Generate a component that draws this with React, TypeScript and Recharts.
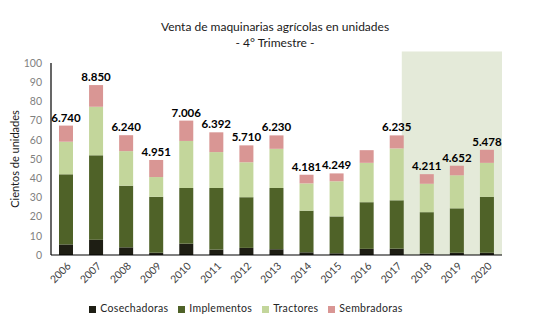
import React from 'react';
import { BarChart, Bar, XAxis, YAxis, Legend, LabelList, ReferenceArea } from 'recharts';

const years = ['2006', '2007', '2008', '2009', '2010', '2011', '2012', '2013', '2014', '2015', '2016', '2017', '2018', '2019', '2020'];
const cosechadoras = [5.5, 8.0, 4.0, 1.2, 5.9, 2.8, 3.7, 3.0, 1.4, 0.9, 3.2, 3.3, 0.8, 1.2, 1.2];
const implementos = [36.5, 43.9, 32.1, 29.1, 29.0, 32.1, 26.4, 31.9, 21.7, 19.2, 24.3, 25.2, 21.5, 23.1, 29.1];
const tractores = [17.0, 25.3, 18.0, 10.3, 24.5, 18.7, 18.2, 20.4, 14.2, 18.3, 20.5, 27.0, 14.8, 17.2, 17.7];
const sembradoras = [8.4, 11.3, 8.3, 8.9, 10.6, 10.3, 8.8, 7.0, 4.5, 4.1, 6.6, 6.8, 5.0, 5.0, 6.8];
const totalLabels = ['6.740', '8.850', '6.240', '4.951', '7.006', '6.392', '5.710', '6.230', '4.181', '4.249', '', '6.235', '4.211', '4.652', '5.478'];
const yTicks = [0, 10, 20, 30, 40, 50, 60, 70, 80, 90, 100];
const seriesOrder = ['Cosechadoras', 'Implementos', 'Tractores', 'Sembradoras'];

// highlighted period
const shadeFrom = '2018';
const shadeTo = '2020';
const shadeTop = 106;

const data = years.map((year, i) => ({
  year,
  Cosechadoras: cosechadoras[i],
  Implementos: implementos[i],
  Tractores: tractores[i],
  Sembradoras: sembradoras[i],
  label: totalLabels[i],
}));

const FONT = 'Lato, "Open Sans", sans-serif';

const XTick = (props: any) => {
  const { x, y, payload } = props;
  const tx = x + 3;
  const ty = y + 1;
  return (
    <text
      x={tx}
      y={ty}
      dy="0.35em"
      textAnchor="end"
      transform={`rotate(-45 ${tx} ${ty})`}
      fontSize={10.5}
      fontFamily={FONT}
      fill="#404040"
    >
      {payload.value}
    </text>
  );
};

// shaded panel starts a little before the first highlighted category band
const ShadeShape = (props: any) => {
  const { x, y, width, height } = props;
  const band = width / 3;
  const ext = band / 3;
  return <rect x={x - ext} y={y} width={width + ext} height={height} fill="#e4ead9" stroke="none" />;
};

export default function App() {
  return (
    <div style={{ position: 'absolute', left: 0, top: 0, width: 536, height: 324, background: '#fff', fontFamily: FONT }}>
      <div style={{ position: 'absolute', left: 0, top: 19, width: 550, textAlign: 'center', fontSize: 12, color: '#1a1a1a', lineHeight: '16px' }}>
        Venta de maquinarias agrícolas en unidades
        <br />- 4° Trimestre -
      </div>
      <BarChart
        width={536}
        height={324}
        data={data}
        margin={{ top: 63, right: 34, left: 0, bottom: 10 }}
        barSize={14}
      >
        <ReferenceArea
          x1={shadeFrom}
          x2={shadeTo}
          y1={0}
          y2={shadeTop}
          ifOverflow="visible"
          shape={<ShadeShape />}
        />
        <XAxis
          dataKey="year"
          interval={0}
          tickLine={false}
          axisLine={{ stroke: '#000', strokeWidth: 1.2 }}
          height={47}
          tick={<XTick />}
        />
        <YAxis
          width={51}
          domain={[0, 100]}
          ticks={yTicks}
          interval={0}
          tickLine={false}
          tickMargin={3}
          axisLine={{ stroke: '#000', strokeWidth: 1.2 }}
          tick={{ fontSize: 10.5, fill: '#7f7f7f', fontFamily: FONT }}
          label={{
            value: 'Cientos de unidades',
            angle: -90,
            position: 'insideLeft',
            offset: 15,
            style: { textAnchor: 'middle', fontSize: 11, fill: '#1a1a1a', fontFamily: FONT },
          }}
        />
        <Legend
          iconType="square"
          iconSize={7}
          itemSorter={(item: any) => seriesOrder.indexOf(item.value)}
          wrapperStyle={{ fontSize: 10.5, fontFamily: FONT, letterSpacing: '0.3px' }}
          formatter={(value: string) => <span style={{ color: '#262626' }}>{value}</span>}
        />
        <Bar dataKey="Cosechadoras" stackId="a" fill="#1e1e14" isAnimationActive={false} />
        <Bar dataKey="Implementos" stackId="a" fill="#4f6228" isAnimationActive={false} />
        <Bar dataKey="Tractores" stackId="a" fill="#c3d69b" isAnimationActive={false} />
        <Bar dataKey="Sembradoras" stackId="a" fill="#d99694" isAnimationActive={false}>
          <LabelList dataKey="label" position="top" offset={4} style={{ fontSize: 11.5, fontWeight: 'bold', fill: '#000', fontFamily: FONT }} />
        </Bar>
      </BarChart>
    </div>
  );
}
